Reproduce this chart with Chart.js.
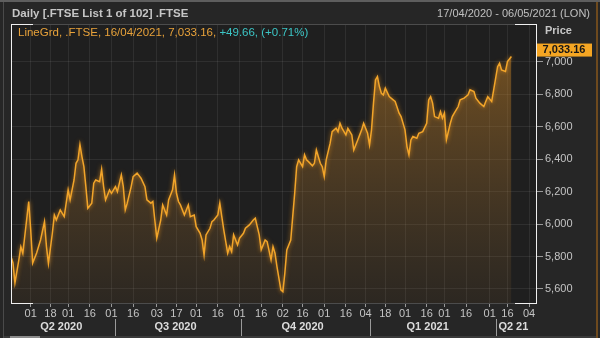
<!DOCTYPE html>
<html><head><meta charset="utf-8">
<script src="https://cdn.jsdelivr.net/npm/chart.js@4"></script>
<style>html,body{margin:0;padding:0;background:#262626;}canvas{display:block}</style>
</head><body>
<canvas id="c" width="600" height="338"></canvas>
<script>
// trading-day index since 17/04/2020
const dayIndex=[0,1,2,4,5,6,9,10,11,13,15,17,18,19,21,22,23,25,27,29,30,32,33,34,35,36,37,38,39,41,42,43,45,46,47,48,50,51,53,54,56,57,58,59,61,62,64,66,68,69,71,72,73,74,76,77,79,80,82,83,84,85,86,88,89,90,91,93,94,96,97,98,99,101,102,103,105,106,107,108,110,111,112,113,115,116,118,119,121,123,124,125,126,127,129,130,132,133,134,135,137,138,139,140,142,143,144,145,146,148,149,150,151,153,154,155,157,158,159,160,162,163,165,166,167,168,170,171,173,174,176,177,178,179,181,182,183,184,185,186,187,188,189,190,192,194,195,197,198,200,201,202,203,204,206,207,209,211,212,213,214,215,217,218,219,220,221,223,224,225,227,228,230,232,233,235,236,238,240,241,242,244,245,247,248,249,251,252,254];
const closeValues=[5800,5760,5637,5780,5860,5820,6139,5964,5760,5822,5902,6015,5861,5758,5945,6056,6025,6087,6046,6211,6149,6272,6375,6396,6490,6416,6354,6231,6098,6129,6252,6272,6262,6338,6231,6149,6211,6190,6231,6200,6303,6231,6087,6129,6231,6293,6314,6283,6231,6149,6129,6139,6025,5913,6025,6118,6056,6149,6211,6303,6190,6139,6118,6056,6087,6118,6046,6056,5984,5943,5902,5810,5933,5974,6015,6025,6056,6129,6046,5964,5820,5861,5830,5933,5871,5913,5943,5974,5995,6025,6036,5984,5933,5841,5902,5892,5779,5861,5820,5738,5594,5583,5697,5841,5902,6046,6190,6354,6396,6354,6427,6396,6385,6359,6375,6457,6375,6354,6293,6396,6499,6570,6591,6570,6622,6591,6550,6591,6550,6457,6519,6550,6581,6622,6560,6488,6581,6746,6889,6910,6848,6807,6797,6838,6786,6766,6756,6684,6663,6581,6478,6427,6519,6540,6529,6560,6570,6622,6766,6786,6746,6663,6653,6694,6653,6684,6519,6622,6663,6684,6725,6766,6777,6797,6828,6817,6777,6746,6725,6756,6786,6756,6828,6971,6992,6951,6941,7002,7033.16];

const xTickIdx=[10,20,29,40,51,62,74,84,94,105,116,127,138,148,159,170,180,190,200,211,220,231,243,252,263];
const xTickLabels=['01','18','01','16','01','16','03','17','01','16','01','16','02','16','01','16','04','18','01','16','01','16','01','16','04'];
const yTickValues=[5600,5800,6000,6200,6400,6600,6800,7000];
const quarterLabels=['Q2 2020','Q3 2020','Q4 2020','Q1 2021','Q2 21'];
const quarterBounds=[0,51,116,180,243,267];
const quarterSep=[53,117,182,246];

const titleText='Daily [.FTSE List 1 of 102] .FTSE';
const rangeText='17/04/2020 - 06/05/2021 (LON)';
const legendMain='LineGrd, .FTSE, 16/04/2021, 7,033.16, ';
const legendChange='+49.66, (+0.71%)';
const priceTitle='Price';
const lastPriceText='7,033.16';

const FONT='"Liberation Sans", Arial, sans-serif';
const points=dayIndex.map((d,i)=>({x:d,y:closeValues[i]}));

const decor={
  id:'decor',
  beforeDraw(chart){
    const c=chart.ctx,a=chart.chartArea;
    c.save();
    c.fillStyle='#262626';c.fillRect(0,0,600,338);
    c.fillStyle='#5e5e5e';c.fillRect(0,0,600,2);
    c.fillStyle='#1f1f1f';c.fillRect(a.left,a.top,a.right-a.left,a.bottom-a.top);
    c.fillStyle='#4a4a4a';c.fillRect(3,2,1,336);
    c.fillStyle='#6e4a1e';c.fillRect(596,2,2,336);
    c.fillStyle='#3a3a3a';c.fillRect(4,336,592,2);
    c.fillStyle='#8c8c8c';c.fillRect(10,336,30,2);
    c.restore();
  },
  beforeDatasetDraw(chart){
    chart.ctx.save();
    chart.ctx.shadowColor='rgba(255,160,30,0.7)';
    chart.ctx.shadowBlur=4;
  },
  afterDatasetDraw(chart){chart.ctx.restore();},
  afterDraw(chart){
    const c=chart.ctx,a=chart.chartArea,xs=chart.scales.x,ys=chart.scales.y;
    c.save();
    // frame
    c.strokeStyle='#4c4c4c';c.lineWidth=1;
    c.beginPath();c.moveTo(a.left,a.top+0.5);c.lineTo(a.right,a.top+0.5);
    c.moveTo(a.left,a.bottom-0.5);c.lineTo(a.right,a.bottom-0.5);c.stroke();
    c.strokeStyle='#f0f0f0';
    c.beginPath();
    c.moveTo(a.left+0.5,a.top);c.lineTo(a.left+0.5,a.bottom);
    c.moveTo(a.right-0.5,a.top);c.lineTo(a.right-0.5,a.bottom);
    c.moveTo(a.left,a.top+0.5);c.lineTo(a.left+22,a.top+0.5);
    c.moveTo(a.right-22,a.top+0.5);c.lineTo(a.right,a.top+0.5);
    c.moveTo(a.left,a.bottom-0.5);c.lineTo(a.left+22,a.bottom-0.5);
    c.moveTo(a.right-22,a.bottom-0.5);c.lineTo(a.right,a.bottom-0.5);
    c.stroke();
    // titles
    c.textBaseline='middle';
    c.font='bold 11.5px '+FONT;c.fillStyle='#c6c6c6';c.textAlign='left';
    c.fillText(titleText,12,14);
    c.font='11px '+FONT;c.textAlign='right';c.fillStyle='#c0c0c0';
    c.fillText(rangeText,590,14);
    c.textAlign='left';
    c.font='11.5px '+FONT;
    c.fillStyle='#e8a23a';c.fillText(legendMain,18,33);
    const w=c.measureText(legendMain).width;
    c.fillStyle='#3cc6c6';c.fillText(legendChange,18+w,33);
    c.font='bold 11px '+FONT;c.fillStyle='#c6c6c6';
    c.fillText(priceTitle,545,31);
    // price box
    const last=closeValues[closeValues.length-1];
    const py=ys.getPixelForValue(last)-7;
    c.fillStyle='#f5a623';c.fillRect(a.right,py-6,55,13);
    c.fillStyle='#161616';c.textAlign='center';
    c.fillText(lastPriceText,a.right+27,py+0.5);
    // quarters
    c.font='bold 11px '+FONT;c.fillStyle='#dcdcdc';c.textAlign='center';
    for(let i=0;i<quarterLabels.length;i++){
      const xm=xs.getPixelForValue((quarterBounds[i]+quarterBounds[i+1])/2);
      c.fillText(quarterLabels[i],xm,327);
    }
    c.strokeStyle='#9a9a9a';c.lineWidth=1;
    c.beginPath();
    quarterSep.forEach(s=>{const x=Math.round(xs.getPixelForValue(s))+0.5;c.moveTo(x,319);c.lineTo(x,336);});
    c.stroke();
    c.restore();
  }
};

new Chart(document.getElementById('c'),{
  type:'line',
  data:{datasets:[{
    data:points,
    borderColor:'#f2a52a',
    borderWidth:1.5,
    pointRadius:0,
    tension:0,
    fill:'start',
    backgroundColor:(ctx)=>{
      const ch=ctx.chart,a=ch.chartArea;
      if(!a) return 'rgba(0,0,0,0)';
      const g=ch.ctx.createLinearGradient(0,a.top,0,a.bottom);
      g.addColorStop(0,'rgba(200,130,35,0.55)');
      g.addColorStop(1,'rgba(140,100,50,0.12)');
      return g;
    }
  }]},
  options:{
    responsive:false,
    animation:false,
    layout:{padding:{left:11,top:24,right:0,bottom:0}},
    plugins:{legend:{display:false},tooltip:{enabled:false}},
    scales:{
      x:{
        type:'linear',min:0,max:267,
        afterBuildTicks:s=>{s.ticks=xTickIdx.map(v=>({value:v}));},
        afterFit:s=>{s.height=34;},
        grid:{color:'rgba(255,255,255,0.075)',tickColor:'#9a9a9a',tickLength:3,drawTicks:true},
        border:{display:false},
        ticks:{color:'#c4c4c4',font:{family:FONT,size:11},padding:0,maxRotation:0,autoSkip:false,
          callback:(v)=>{const i=xTickIdx.indexOf(v);return i>=0?xTickLabels[i]:'';}}
      },
      y:{
        position:'right',min:5507,max:7234,
        afterBuildTicks:s=>{s.ticks=yTickValues.map(v=>({value:v}));},
        afterFit:s=>{s.width=63;},
        grid:{color:'rgba(255,255,255,0.075)',tickColor:'#9a9a9a',tickLength:6,drawTicks:true},
        border:{display:false},
        ticks:{color:'#c4c4c4',font:{family:FONT,size:11},padding:2,
          callback:(v)=>v.toLocaleString('en-US')}
      }
    }
  },
  plugins:[decor]
});
</script>
</body></html>
